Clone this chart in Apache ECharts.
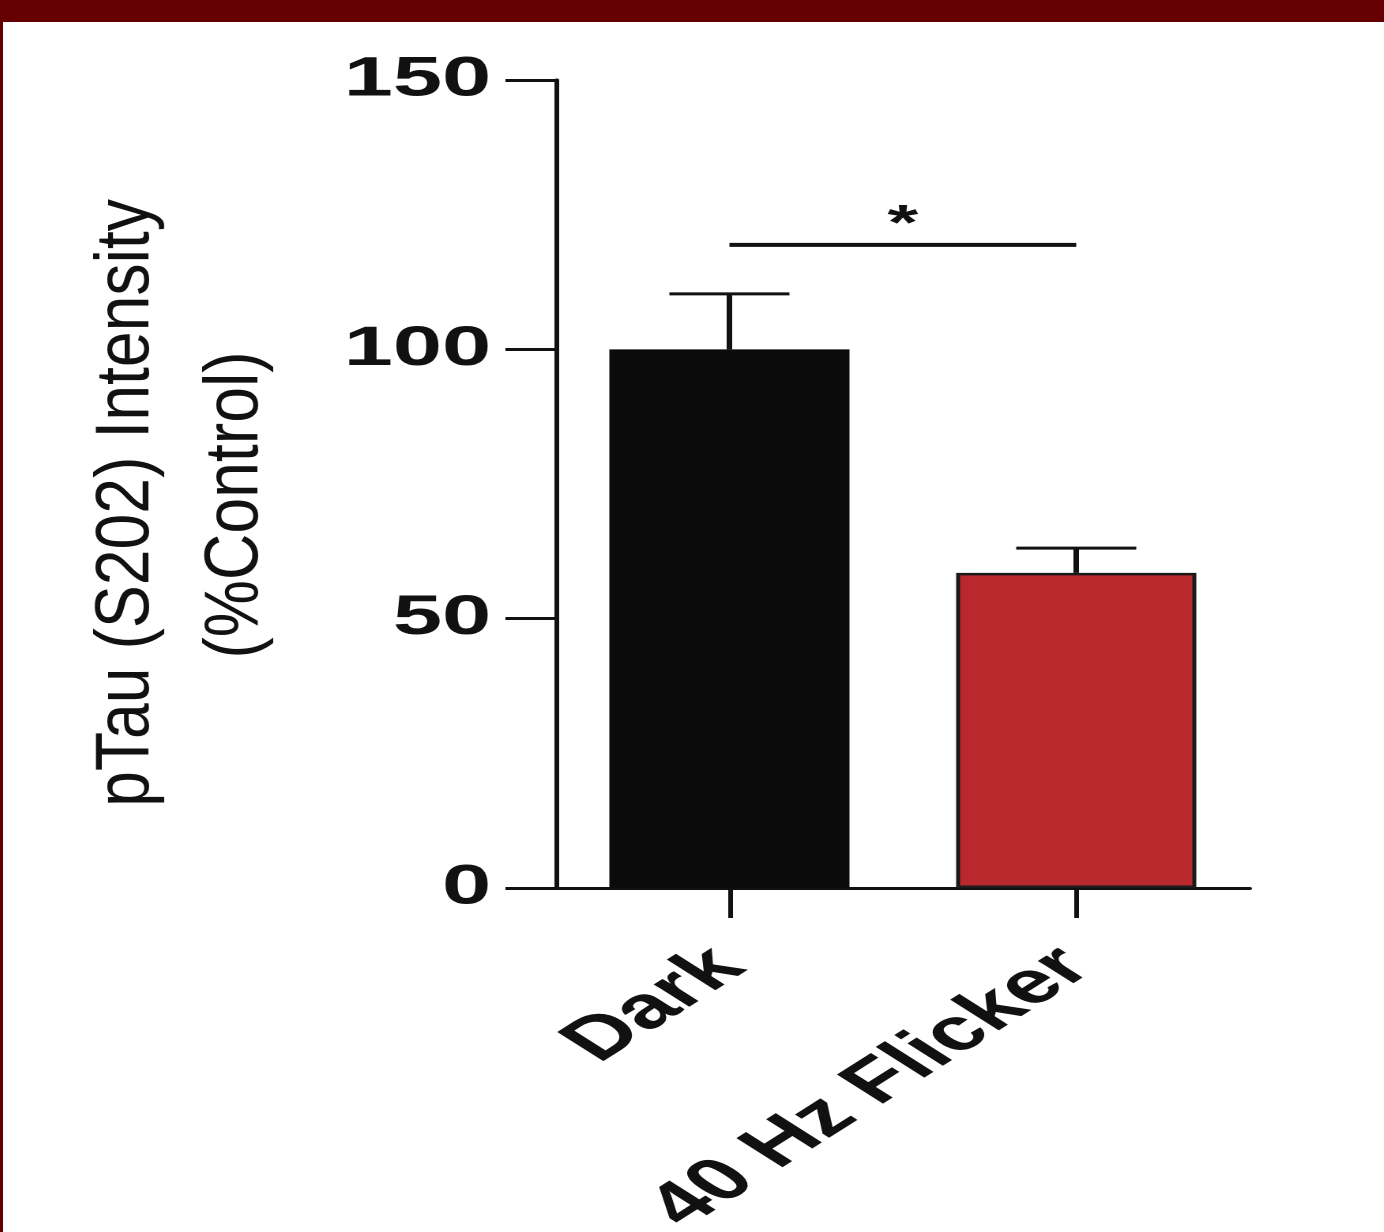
<!DOCTYPE html>
<html>
<head>
<meta charset="utf-8">
<script src="https://cdn.jsdelivr.net/npm/echarts@6/dist/echarts.min.js"></script>
<style>
  html, body { margin: 0; padding: 0; }
  body { width: 1384px; height: 1232px; background: #660000; position: relative; overflow: hidden; }
  #wrap { position: absolute; left: 3px; top: 22px; width: 1381px; height: 1210px; background: #ffffff; overflow: hidden; }
  #chart { position: absolute; left: 0; top: 0; width: 874px; height: 1210px; transform: scaleX(1.58); transform-origin: 0 0; }
</style>
</head>
<body>
<div id="wrap"><div id="chart"></div></div>
<script>
// ---- data ----
const categories = ['Dark', '40 Hz Flicker'];
const meanValues = [100, 58.5];
const errorTops = [110.3, 63.1];
const barColors = ['#0b0b0b', '#b8282d'];
const yTicks = [0, 50, 100, 150];
const sigPair = [0, 1];
const sigLevel = 119.4;
const sigLabel = '*';
const yTitleLine1 = 'pTau (S202) Intensity';
const yTitleLine2 = '(%Control)';

const chart = echarts.init(document.getElementById('chart'), null, { renderer: 'canvas', devicePixelRatio: 2 });
const FONT = '"Liberation Sans", Arial, Helvetica, sans-serif';
const INK = '#111111';

const option = {
  animation: false,
  backgroundColor: '#ffffff',
  grid: { left: 350, top: 58, width: 439, height: 808, containLabel: false, outerBoundsMode: 'none' },
  xAxis: {
    type: 'category',
    data: categories,
    axisLine: { show: true, lineStyle: { color: INK, width: 3 } },
    axisTick: { show: true, alignWithLabel: true, length: 30, lineStyle: { color: INK, width: 3 } },
    axisLabel: { rotate: 45, fontSize: 60, fontWeight: 'bold', fontFamily: FONT, color: INK, margin: 70 },
    splitLine: { show: false }
  },
  yAxis: {
    type: 'value',
    min: yTicks[0], max: yTicks[yTicks.length - 1], interval: 50,
    axisLine: { show: true, lineStyle: { color: INK, width: 3 } },
    axisTick: { show: true, length: 32, lineStyle: { color: INK, width: 3 } },
    axisLabel: { fontSize: 56, fontWeight: 'bold', fontFamily: FONT, color: INK, margin: 41 },
    splitLine: { show: false }
  },
  graphic: [
    {
      type: 'text', x: 79, y: 481, rotation: Math.PI / 2, scaleX: 1.34,
      style: { text: yTitleLine1, fontSize: 48, fontFamily: FONT, fill: INK,
               align: 'center', verticalAlign: 'middle', textAlign: 'center', textVerticalAlign: 'middle' }
    },
    {
      type: 'text', x: 148, y: 483, rotation: Math.PI / 2, scaleX: 1.34,
      style: { text: yTitleLine2, fontSize: 48, fontFamily: FONT, fill: INK,
               align: 'center', verticalAlign: 'middle', textAlign: 'center', textVerticalAlign: 'middle' }
    }
  ],
  series: [
    {
      type: 'bar',
      barWidth: 152,
      data: meanValues.map((v, i) => ({
        value: v,
        itemStyle: { color: barColors[i], borderColor: '#1a1a1a', borderWidth: i === 0 ? 0 : 2.5 }
      })),
      z: 2
    },
    {
      type: 'custom',
      z: 3,
      data: meanValues.map((v, i) => [i, v, errorTops[i]]),
      renderItem: function (params, api) {
        const top = api.coord([api.value(0), api.value(2)]);
        const base = api.coord([api.value(0), api.value(1)]);
        const half = 38;
        return {
          type: 'group',
          children: [
            { type: 'line', shape: { x1: top[0], y1: top[1], x2: base[0], y2: base[1] },
              style: { stroke: INK, lineWidth: 3.5 } },
            { type: 'line', shape: { x1: top[0] - half, y1: top[1], x2: top[0] + half, y2: top[1] },
              style: { stroke: INK, lineWidth: 3 } }
          ]
        };
      }
    },
    {
      type: 'custom',
      z: 3,
      data: [[sigPair[0], sigPair[1], sigLevel]],
      renderItem: function (params, api) {
        const a = api.coord([api.value(0), api.value(2)]);
        const b = api.coord([api.value(1), api.value(2)]);
        return {
          type: 'group',
          children: [
            { type: 'line', shape: { x1: a[0], y1: a[1], x2: b[0], y2: b[1] },
              style: { stroke: INK, lineWidth: 4 } },
            { type: 'text', x: (a[0] + b[0]) / 2, y: a[1] - 19,
              style: { text: sigLabel, fontSize: 50, fontWeight: 'bold', fontFamily: FONT, fill: INK,
                       align: 'center', verticalAlign: 'middle', textAlign: 'center', textVerticalAlign: 'middle' } }
          ]
        };
      }
    }
  ]
};
chart.setOption(option);
</script>
</body>
</html>
